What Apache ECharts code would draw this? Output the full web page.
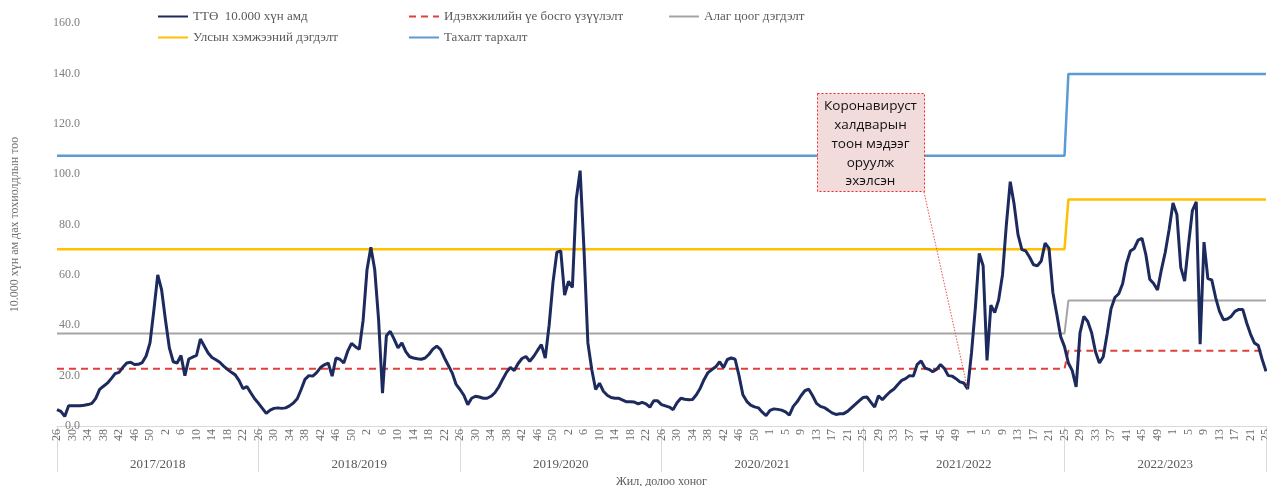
<!DOCTYPE html>
<html>
<head>
<meta charset="utf-8">
<script src="https://cdn.jsdelivr.net/npm/echarts@6/dist/echarts.min.js"></script>
<style>
  html, body { margin: 0; padding: 0; background: #fff; }
  #chart { width: 1267px; height: 486px; }
</style>
</head>
<body>
<div id="chart"></div>
<script>
// ---- Data ----
const seasonLabels = ['2017/2018', '2018/2019', '2019/2020', '2020/2021', '2021/2022', '2022/2023'];
const seasonStartWeeks = [26, 26, 26, 26, 25, 25];
const weeksInStartYear = [52, 52, 52, 53, 52, 52];
const weeksPerSeason = 52;
const finalWeekLabel = '25';

// ТТӨ per 10,000 population, weekly
const rate2017_18 = [6.5, 5.8, 3.8, 8.0, 8.0, 8.0, 8.0, 8.2, 8.5, 9.0, 11.0, 14.5, 15.8, 17.0, 18.8, 20.8, 21.3, 23.3, 25.0, 25.3, 24.4, 24.5, 25.2, 27.8, 33.0, 46.0, 60.0, 54.0, 42.0, 31.0, 25.5, 25.0, 28.0, 20.0, 26.6, 27.3, 28.0, 34.5, 31.8, 29.0, 27.2, 26.3, 25.3, 23.8, 22.5, 21.3, 20.3, 18.0, 14.8, 15.7, 13.2, 10.8];
const rate2018_19 = [9.0, 7.0, 5.0, 6.3, 7.0, 7.2, 7.0, 7.2, 8.0, 9.1, 10.8, 14.5, 18.5, 20.0, 19.8, 21.2, 23.2, 24.3, 25.0, 19.8, 27.0, 26.5, 25.0, 29.6, 32.8, 31.5, 30.5, 42.0, 62.0, 71.0, 62.0, 42.0, 13.0, 35.8, 37.6, 34.5, 31.0, 33.0, 29.5, 27.5, 27.0, 26.7, 26.5, 27.0, 28.5, 30.5, 31.7, 30.3, 27.0, 24.0, 21.0, 16.5];
const rate2019_20 = [14.5, 12.2, 8.5, 11.0, 11.8, 11.5, 11.0, 11.0, 11.8, 13.2, 15.5, 18.5, 21.3, 23.3, 22.0, 24.8, 26.8, 27.6, 25.7, 27.6, 30.0, 32.3, 27.0, 40.0, 57.0, 69.0, 69.5, 52.0, 57.4, 55.0, 90.0, 101.4, 70.0, 33.0, 22.4, 14.5, 17.0, 13.8, 12.2, 11.3, 11.0, 11.0, 10.3, 9.6, 9.6, 9.5, 8.8, 9.4, 8.8, 7.5, 10.0, 10.0];
const rate2020_21 = [8.5, 8.0, 7.5, 6.5, 9.2, 11.0, 10.6, 10.4, 10.5, 12.4, 15.0, 18.5, 21.2, 22.4, 23.5, 25.5, 23.2, 26.4, 27.0, 26.5, 20.0, 12.4, 9.8, 8.3, 7.6, 7.2, 5.5, 4.1, 6.2, 6.8, 6.6, 6.3, 5.6, 4.3, 7.8, 9.6, 12.0, 14.0, 14.6, 12.0, 9.0, 7.8, 7.3, 6.3, 5.2, 4.6, 4.9, 4.9, 5.8, 7.2, 8.6, 10.0];
const rate2021_22 = [11.3, 11.5, 9.5, 7.5, 12.0, 10.4, 12.1, 13.6, 14.7, 16.5, 18.1, 18.8, 20.0, 19.8, 24.5, 25.8, 23.0, 22.5, 21.5, 22.5, 24.4, 22.8, 20.0, 19.8, 18.8, 17.5, 17.1, 14.7, 29.0, 47.0, 68.5, 63.6, 26.0, 48.0, 45.0, 50.0, 60.0, 80.0, 97.0, 88.0, 76.0, 70.0, 69.5, 67.0, 64.0, 63.6, 65.5, 72.6, 70.5, 53.0, 44.5, 35.5];
const rate2022_23 = [31.5, 25.0, 22.0, 15.5, 37.0, 43.5, 41.5, 37.0, 29.5, 25.0, 27.5, 36.5, 46.5, 51.0, 52.5, 56.5, 64.5, 69.5, 70.5, 73.8, 74.5, 68.0, 58.3, 56.6, 54.0, 62.0, 69.0, 78.0, 88.5, 84.0, 63.0, 57.5, 72.0, 85.5, 89.0, 32.5, 73.0, 58.5, 58.0, 51.0, 45.5, 42.2, 42.5, 43.5, 45.5, 46.3, 46.3, 41.0, 36.5, 33.0, 32.0, 26.5, 21.7];

// Thresholds per season (new values take effect one week after the season's first week)
const activityThresholdBySeason = [22.7, 22.7, 22.7, 22.7, 22.7, 29.9];
const localOutbreakBySeason = [36.7, 36.7, 36.7, 36.7, 36.7, 49.8];
const nationalOutbreakBySeason = [70.2, 70.2, 70.2, 70.2, 70.2, 89.9];
const epidemicBySeason = [107.3, 107.3, 107.3, 107.3, 107.3, 139.8];

const seriesNames = ['ТТӨ  10.000 хүн амд', 'Идэвхжилийн үе босго үзүүлэлт', 'Алаг цоог дэгдэлт', 'Улсын хэмжээний дэгдэлт', 'Тахалт тархалт'];
const yTitle = '10.000 хүн ам дах тохиолдлын тоо';
const xTitle = 'Жил, долоо хоног';
const noteLines = ['Коронавируст', 'халдварын', 'тоон мэдээг', 'оруулж', 'эхэлсэн'];
const noteWeekIndex = 235;

// ---- Build ----
const weekCategories = [];
seasonLabels.forEach((s, si) => {
  for (let k = 0; k < weeksPerSeason; k++) {
    let w = seasonStartWeeks[si] + k;
    if (w > weeksInStartYear[si]) w -= weeksInStartYear[si];
    weekCategories.push(String(w));
  }
});
weekCategories.push(finalWeekLabel);

const rate = [].concat(rate2017_18, rate2018_19, rate2019_20, rate2020_21, rate2021_22, rate2022_23);

function expand(bySeason) {
  const out = [];
  for (let i = 0; i < weekCategories.length; i++) {
    const s = Math.min(bySeason.length - 1, Math.max(0, Math.floor((i - 1) / weeksPerSeason)));
    out.push(bySeason[s]);
  }
  return out;
}

const serif = 'Liberation Serif';
const grey = '#6f6f6f';

const legendBase = {
  itemWidth: 30, itemHeight: 10, itemGap: 4, padding: 0,
  itemStyle: { opacity: 0 },
  textStyle: { fontFamily: serif, fontSize: 13, color: '#595959' }
};
const legendPos = [[157, 10], [408, 10], [668, 10], [157, 31], [408, 31]];

const chart = echarts.init(document.getElementById('chart'), null, { renderer: 'canvas' });
chart.setOption({
  backgroundColor: '#fff',
  animation: false,
  grid: { left: 57, right: 1, top: 23, bottom: 60, containLabel: false, outerBoundsMode: 'none' },
  legend: seriesNames.map((n, i) => Object.assign({}, legendBase, {
    left: legendPos[i][0], top: legendPos[i][1], data: [n]
  })),
  xAxis: [
    {
      type: 'category', data: weekCategories, boundaryGap: false,
      axisLine: { show: true, lineStyle: { color: '#d9d9d9', width: 1 } },
      axisTick: { show: false },
      axisLabel: { interval: 3, rotate: 90, margin: 3, fontFamily: serif, fontSize: 12, color: grey },
      name: xTitle, nameLocation: 'middle', nameGap: 50,
      nameTextStyle: { fontFamily: serif, fontSize: 12, color: '#595959' }
    },
    {
      type: 'category', data: seasonLabels, boundaryGap: true, position: 'bottom',
      axisLine: { show: false },
      axisTick: { show: true, interval: 0, length: 46, lineStyle: { color: '#d9d9d9' } },
      axisLabel: { interval: 0, margin: 32, fontFamily: serif, fontSize: 13, color: '#595959' }
    }
  ],
  yAxis: {
    type: 'value', min: 0, max: 160, interval: 20,
    axisLine: { show: false }, axisTick: { show: false }, splitLine: { show: false },
    axisLabel: { margin: -23, fontFamily: serif, fontSize: 12, color: '#7f7f7f',
      formatter: v => v.toFixed(1) },
    name: yTitle, nameLocation: 'middle', nameGap: 36,
    nameTextStyle: { fontFamily: serif, fontSize: 12, color: '#6f6f6f' }
  },
  series: [
    { name: seriesNames[1], type: 'line', data: expand(activityThresholdBySeason), symbol: 'none',
      lineStyle: { color: '#e0403a', width: 2, type: [7, 5] }, itemStyle: { color: '#e0403a' }, z: 2 },
    { name: seriesNames[2], type: 'line', data: expand(localOutbreakBySeason), symbol: 'none',
      lineStyle: { color: '#a5a5a5', width: 2 }, itemStyle: { color: '#a5a5a5' }, z: 2 },
    { name: seriesNames[3], type: 'line', data: expand(nationalOutbreakBySeason), symbol: 'none',
      lineStyle: { color: '#ffc000', width: 2.5 }, itemStyle: { color: '#ffc000' }, z: 2 },
    { name: seriesNames[4], type: 'line', data: expand(epidemicBySeason), symbol: 'none',
      lineStyle: { color: '#5b9bd5', width: 2.5 }, itemStyle: { color: '#5b9bd5' }, z: 2 },
    { name: seriesNames[0], type: 'line', data: rate, symbol: 'none',
      lineStyle: { color: '#1c2a5e', width: 3 }, itemStyle: { color: '#1c2a5e' }, z: 3,
      markLine: {
        silent: true, symbol: ['none', 'none'], label: { show: false },
        lineStyle: { color: '#e8504a', width: 1, type: [1.5, 1.5] },
        data: [[{ x: 924, y: 192 }, { coord: [noteWeekIndex, rate[noteWeekIndex]] }]]
      }
    }
  ],
  graphic: [
    { type: 'rect', left: 817, top: 93, z: 20,
      shape: { width: 107, height: 98 },
      style: { fill: '#f2dcdb', stroke: '#ff2020', lineWidth: 1, lineDash: [2, 2] } },
    { type: 'text', x: 870.5, y: 97, z: 21,
      style: { text: noteLines.join('\n'), align: 'center', verticalAlign: 'top',
        fontFamily: 'Open Sans', fontSize: 13.5, lineHeight: 18.8, fill: '#111' } }
  ]
});
</script>
</body>
</html>
